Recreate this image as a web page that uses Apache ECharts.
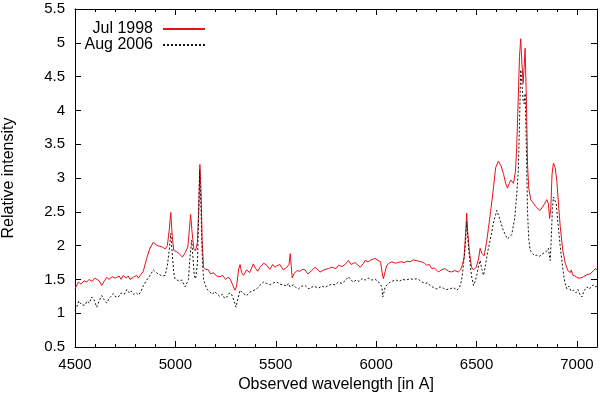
<!DOCTYPE html>
<html>
<head>
<meta charset="utf-8">
<script src="https://cdn.jsdelivr.net/npm/echarts@6/dist/echarts.min.js"></script>
<style>
    html, body { margin: 0; padding: 0; background: #fff; }
    #chart { width: 600px; height: 396px; }
</style>
</head>
<body>
<div id="chart"></div>
<script>
// wavelengths and intensities
var waveJul = [4500,4510,4517,4530,4545,4558,4570,4585,4600,4608,4620,4633,4645,4658,4670,4685,4700,4708,4720,4730,
    4741,4755,4765,4774,4790,4807,4815,4824,4840,4857,4872,4890,4905,4920,4935,4950,4960,4970,4977,4984,
    4992,5005,5020,5035,5050,5062,5070,5076,5083,5092,5100,5110,5117,5122,5128,5133,5140,5150,5164,5175,
    5190,5205,5222,5235,5250,5262,5272,5285,5297,5305,5315,5322,5330,5339,5355,5370,5388,5400,5410,5422,
    5440,5455,5470,5485,5495,5505,5520,5538,5555,5566,5572,5577,5582,5590,5605,5620,5635,5646,5660,5675,
    5696,5710,5721,5740,5762,5780,5800,5812,5830,5845,5862,5875,5895,5910,5921,5935,5945,5960,5975,5995,
    6010,6022,6030,6036,6045,6053,6065,6078,6095,6110,6125,6140,6155,6169,6185,6194,6210,6227,6240,6252,
    6265,6277,6290,6310,6325,6343,6360,6376,6392,6409,6420,6430,6438,6446,6451,6456,6465,6475,6485,6498,
    6510,6518,6527,6538,6550,6559,6570,6585,6595,6609,6622,6635,6645,6654,6663,6671,6684,6694,6700,6708,
    6714,6720,6726,6732,6738,6742,6748,6754,6760,6770,6785,6800,6817,6835,6850,6858,6864,6870,6876,6883,
    6892,6900,6910,6917,6930,6942,6955,6967,6972,6980,6991,7005,7016,7033,7050,7065,7083,7092,7100];
var jul = [1.36,1.42,1.46,1.43,1.48,1.46,1.50,1.47,1.52,1.51,1.48,1.41,1.47,1.53,1.50,1.54,1.52,1.51,1.55,1.50,
    1.56,1.52,1.55,1.50,1.53,1.56,1.52,1.51,1.62,1.81,1.95,2.05,2.01,1.99,1.98,1.95,2.00,2.25,2.49,2.15,
    1.93,1.91,1.88,1.83,1.90,1.98,2.25,2.46,2.20,1.95,1.92,2.05,2.60,3.20,2.80,2.10,1.68,1.65,1.64,1.58,
    1.60,1.55,1.54,1.56,1.50,1.53,1.51,1.42,1.34,1.40,1.65,1.72,1.60,1.56,1.64,1.60,1.73,1.66,1.62,1.68,
    1.74,1.71,1.65,1.72,1.68,1.70,1.72,1.64,1.68,1.72,1.88,1.70,1.52,1.58,1.63,1.62,1.65,1.64,1.58,1.62,
    1.68,1.64,1.61,1.64,1.66,1.68,1.66,1.71,1.69,1.72,1.78,1.72,1.75,1.71,1.68,1.73,1.78,1.76,1.79,1.81,
    1.78,1.76,1.60,1.51,1.62,1.71,1.74,1.76,1.74,1.75,1.76,1.75,1.77,1.76,1.79,1.81,1.77,1.76,1.74,1.71,
    1.72,1.66,1.67,1.61,1.64,1.66,1.62,1.61,1.63,1.61,1.64,1.72,1.83,2.20,2.48,2.20,1.90,1.68,1.64,1.68,
    1.80,1.96,1.88,1.85,2.05,2.25,2.50,2.87,3.15,3.25,3.18,3.05,2.92,2.85,2.92,2.97,2.92,3.10,3.45,4.20,
    4.80,5.06,4.70,4.40,4.70,4.92,4.20,3.20,2.85,2.68,2.62,2.56,2.52,2.60,2.68,2.62,2.40,2.55,3.05,3.22,
    3.15,2.95,2.55,2.28,1.92,1.74,1.63,1.60,1.64,1.56,1.55,1.52,1.52,1.54,1.57,1.58,1.63,1.66,1.64];

var waveAug = [4500,4510,4518,4525,4535,4550,4560,4572,4583,4595,4608,4620,4633,4645,4658,4670,4680,4691,4703,4716,
    4730,4745,4758,4770,4780,4791,4805,4816,4830,4841,4857,4872,4890,4905,4915,4924,4935,4949,4960,4970,
    4977,4985,4992,4998,5015,5032,5048,5058,5065,5072,5081,5088,5094,5101,5110,5116,5121,5127,5133,5140,
    5156,5170,5185,5195,5206,5220,5235,5245,5256,5270,5280,5289,5296,5302,5310,5322,5335,5355,5370,5385,
    5405,5420,5438,5455,5472,5490,5505,5520,5538,5555,5563,5571,5580,5588,5600,5613,5630,5646,5665,5680,
    5700,5712,5730,5745,5762,5780,5795,5812,5830,5845,5862,5875,5887,5900,5915,5929,5945,5960,5979,5995,
    6010,6022,6028,6033,6040,6045,6058,6070,6085,6100,6115,6130,6150,6169,6185,6202,6215,6230,6245,6255,
    6269,6285,6302,6318,6335,6350,6368,6385,6402,6415,6426,6436,6443,6451,6458,6465,6475,6485,6494,6501,
    6510,6518,6526,6535,6545,6555,6568,6585,6601,6615,6630,6645,6654,6665,6675,6690,6700,6708,6714,6720,
    6726,6732,6737,6742,6748,6754,6760,6767,6780,6790,6800,6812,6825,6840,6850,6858,6863,6867,6872,6878,
    6883,6890,6897,6905,6917,6930,6940,6950,6960,6970,6983,6995,7005,7016,7025,7035,7050,7058,7070,7080,
    7091,7100];
var aug = [1.04,1.10,1.18,1.19,1.12,1.12,1.18,1.15,1.24,1.20,1.09,1.18,1.26,1.20,1.15,1.22,1.25,1.29,1.24,1.24,
    1.30,1.28,1.35,1.30,1.33,1.28,1.30,1.27,1.33,1.41,1.49,1.55,1.64,1.60,1.58,1.57,1.55,1.56,1.70,1.95,
    2.18,1.85,1.60,1.51,1.48,1.49,1.39,1.45,1.50,1.80,2.08,1.80,1.55,1.51,1.75,2.50,3.12,2.60,1.90,1.50,
    1.36,1.32,1.28,1.32,1.29,1.25,1.28,1.22,1.24,1.30,1.28,1.26,1.15,1.09,1.20,1.34,1.30,1.26,1.31,1.33,
    1.36,1.41,1.46,1.44,1.42,1.45,1.46,1.43,1.42,1.40,1.44,1.39,1.41,1.42,1.38,1.36,1.40,1.41,1.36,1.39,
    1.39,1.37,1.40,1.38,1.41,1.43,1.42,1.46,1.44,1.48,1.54,1.49,1.46,1.49,1.47,1.51,1.49,1.52,1.49,1.50,
    1.47,1.42,1.39,1.24,1.32,1.39,1.43,1.46,1.48,1.49,1.47,1.50,1.49,1.51,1.50,1.51,1.49,1.46,1.44,1.45,
    1.41,1.38,1.36,1.39,1.37,1.35,1.36,1.38,1.34,1.38,1.49,1.75,1.95,2.35,2.05,1.81,1.55,1.41,1.48,1.56,
    1.70,1.78,1.65,1.56,1.72,1.90,2.08,2.35,2.52,2.40,2.25,2.15,2.10,2.13,2.16,2.40,2.75,3.10,3.80,4.60,
    4.40,4.15,4.10,4.25,3.50,2.50,2.10,1.93,1.88,1.85,1.86,1.84,1.87,1.90,1.92,1.96,1.85,1.78,2.10,2.55,
    2.72,2.70,2.62,2.35,1.98,1.65,1.45,1.36,1.40,1.33,1.34,1.30,1.35,1.27,1.24,1.33,1.39,1.36,1.38,1.42,
    1.39,1.40];

var seriesNames = ['Jul 1998', 'Aug 2006'];
var xRange = [4500, 7100];
var yRange = [0.5, 5.5];

function pairs(xs, ys) {
    var out = [];
    for (var i = 0; i < xs.length; i++) {
        out.push([xs[i], ys[i]]);
    }
    return out;
}

var myChart = echarts.init(document.getElementById('chart'));
var font = 'Liberation Sans';
var axisStyle = { color: '#000', width: 1 };

var option = {
    animation: false,
    backgroundColor: '#fff',
    textStyle: { fontFamily: font },
    grid: { left: 75, right: 3, top: 9, bottom: 49, containLabel: false, outerBoundsMode: 'none' },
    legend: {
        orient: 'vertical',
        right: 389,
        top: 16,
        align: 'right',
        itemWidth: 42,
        itemHeight: 12,
        itemGap: 0,
        data: seriesNames,
        itemStyle: { opacity: 0 },
        textStyle: { fontFamily: font, fontSize: 16, lineHeight: 16, color: '#000', padding: [0, 5, 0, 0] }
    },
    xAxis: [{
        type: 'value',
        min: xRange[0],
        max: xRange[1],
        interval: 500,
        name: 'Observed wavelength [in A]',
        nameLocation: 'middle',
        nameGap: 29,
        nameTextStyle: { fontFamily: font, fontSize: 16, color: '#000' },
        axisLine: { show: true, onZero: false, lineStyle: axisStyle },
        axisTick: { show: true, inside: true, length: 6, lineStyle: axisStyle },
        minorTick: { show: true, splitNumber: 5, length: 3, lineStyle: axisStyle },
        axisLabel: {
            fontFamily: font, fontSize: 15, color: '#000', margin: 10, showMaxLabel: false,
            formatter: function (v) { return String(v); }
        },
        splitLine: { show: false }
    }, {
        type: 'value',
        position: 'top',
        min: xRange[0],
        max: xRange[1],
        interval: 500,
        axisLine: { show: true, onZero: false, lineStyle: axisStyle },
        axisTick: { show: true, inside: true, length: 6, lineStyle: axisStyle },
        minorTick: { show: true, splitNumber: 5, length: 3, lineStyle: axisStyle },
        axisLabel: { show: false },
        splitLine: { show: false }
    }],
    yAxis: [{
        type: 'value',
        min: yRange[0],
        max: yRange[1],
        interval: 0.5,
        name: 'Relative intensity',
        nameLocation: 'middle',
        nameGap: 58,
        nameTextStyle: { fontFamily: font, fontSize: 16, color: '#000' },
        axisLine: { show: true, onZero: false, lineStyle: axisStyle },
        axisTick: { show: true, inside: true, length: 6, lineStyle: axisStyle },
        axisLabel: { fontFamily: font, fontSize: 15, color: '#000', margin: 10 },
        splitLine: { show: false }
    }, {
        type: 'value',
        position: 'right',
        min: yRange[0],
        max: yRange[1],
        interval: 0.5,
        axisLine: { show: true, onZero: false, lineStyle: axisStyle },
        axisTick: { show: true, inside: true, length: 6, lineStyle: axisStyle },
        axisLabel: { show: false },
        splitLine: { show: false }
    }],
    series: [{
        name: seriesNames[0],
        type: 'line',
        xAxisIndex: 0,
        yAxisIndex: 0,
        showSymbol: false,
        symbol: 'none',
        data: pairs(waveJul, jul),
        lineStyle: { color: '#e8101a', width: 1 },
        itemStyle: { color: '#e8101a' }
    }, {
        name: seriesNames[1],
        type: 'line',
        xAxisIndex: 0,
        yAxisIndex: 0,
        showSymbol: false,
        symbol: 'none',
        data: pairs(waveAug, aug),
        lineStyle: { color: '#111', width: 1, type: [2, 2] },
        itemStyle: { color: '#111' }
    }]
};
myChart.setOption(option);
</script>
</body>
</html>
